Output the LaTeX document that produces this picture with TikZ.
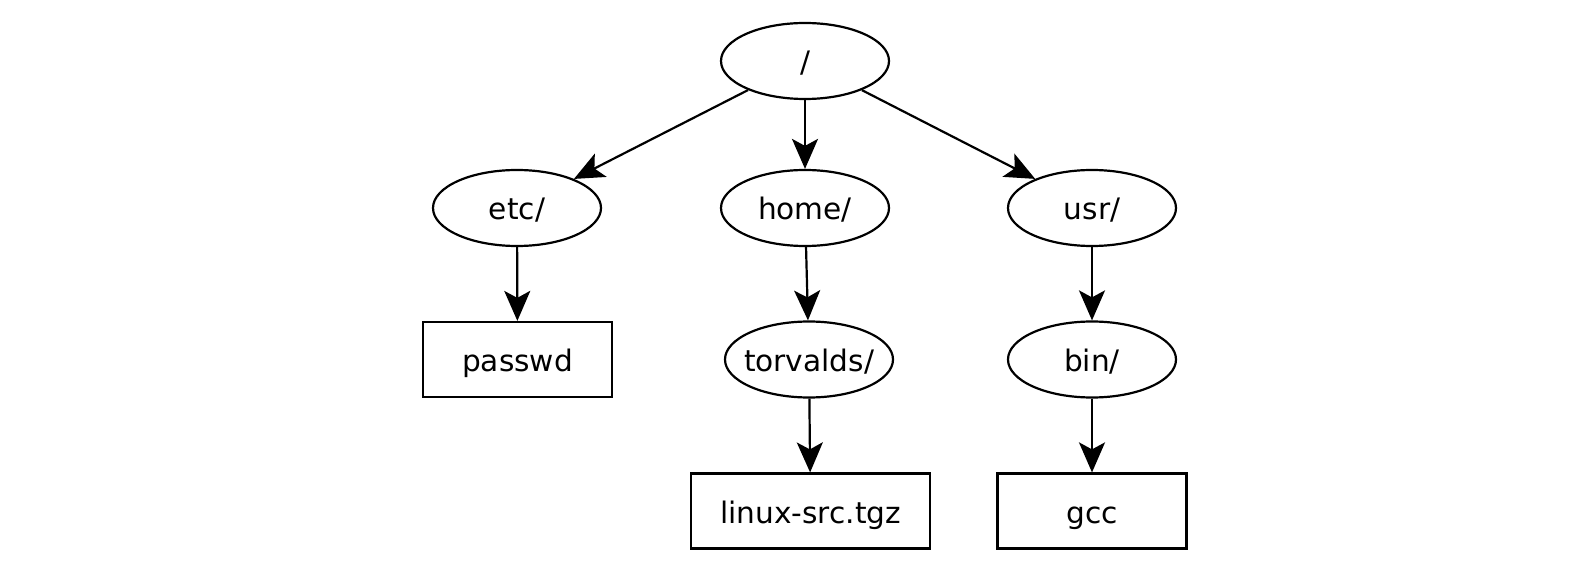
\documentclass[tikz,border=0pt]{standalone}
\usepackage{fontspec}
\setmainfont{DejaVu Sans}
\usetikzlibrary{shapes.geometric,arrows.meta}
\begin{document}
\begin{tikzpicture}[x=0.5pt,y=-0.5pt,
  every node/.style={font=\fontsize{14.8pt}{17pt}\selectfont, line width=1.1pt, inner sep=0pt, text height=12.5pt, text depth=0.5pt},
  dirnode/.style={draw, ellipse, minimum width=84pt, minimum height=38pt},
  filenode/.style={draw, rectangle, minimum width=94.5pt, minimum height=37.5pt},
  edge/.style={line width=1.1pt, -{Stealth[length=15pt,width=13pt,inset=3.5pt]}}]
\useasboundingbox (0,0) rectangle (1596,561);
\node[dirnode] (root) at (805,61) {/};
\node[dirnode] (etc) at (517,208) {etc/};
\node[dirnode] (home) at (805,208) {home/};
\node[dirnode] (usr) at (1092,208) {usr/};
\node[filenode] (passwd) at (517.5,359.5) {passwd};
\node[dirnode] (torvalds) at (809,359.5) {\makebox[0pt]{torvalds/}};
\node[dirnode] (bin) at (1092,359.5) {bin/};
\node[filenode, minimum width=119.5pt] (linux) at (810.5,511) {linux-src.tgz};
\node[filenode] (gcc) at (1092,511) {gcc};
\draw[edge] (root) -- (etc);
\draw[edge] (root) -- (home);
\draw[edge] (root) -- (usr);
\draw[edge] (etc) -- (passwd);
\draw[edge] (home) -- (torvalds);
\draw[edge] (usr) -- (bin);
\draw[edge] (torvalds) -- (linux);
\draw[edge] (bin) -- (gcc);
\end{tikzpicture}
\end{document}
